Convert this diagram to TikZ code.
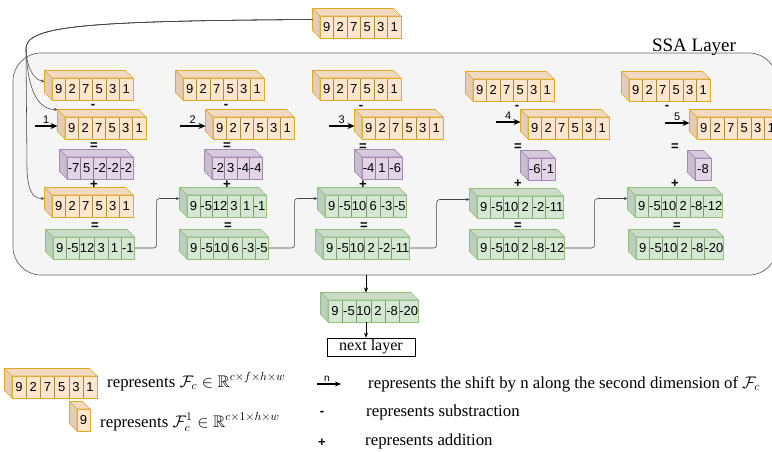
\RequirePackage{fix-cm}
\documentclass[tikz,border=0pt]{standalone}
\usepackage{amssymb}
\usepackage{fontspec}
\setmainfont{Liberation Serif}
\newfontfamily\sansf{Liberation Sans}
\usetikzlibrary{calc,arrows.meta}
\definecolor{ofill}{HTML}{FFE6CC}
\definecolor{oline}{HTML}{D79B00}
\definecolor{pfill}{HTML}{E1D5E7}
\definecolor{pline}{HTML}{9673A6}
\definecolor{gfill}{HTML}{D5E8D4}
\definecolor{gline}{HTML}{82B366}
\definecolor{ssafill}{HTML}{F5F5F5}
\definecolor{ssaline}{HTML}{666666}
\definecolor{connc}{HTML}{444444}
\tikzset{
  cellbox/.style={draw=#1line!50!gray, fill=#1fill, line width=0.55pt, minimum height=22pt,
    inner xsep=0.3pt, inner ysep=0pt, outer sep=0pt, anchor=north west,
    font=\sansf\fontsize{13}{13}\selectfont},
  ssabox/.style={draw=ssaline, fill=ssafill, line width=0.7pt, rounded corners=28pt,
    inner sep=0pt, outer sep=0pt, anchor=north west},
  opsign/.style={font=\sansf\bfseries\fontsize{13}{13}\selectfont, inner sep=0pt},
  numlbl/.style={font=\sansf\fontsize{11}{11}\selectfont, inner sep=1pt},
  shiftarr/.style={line width=1.4pt, -{Stealth[length=7pt,width=6pt]}},
  conn/.style={draw=connc, line width=0.55pt, -{Stealth[length=3.5pt,width=3pt]}},
  vconn/.style={draw=black, line width=0.6pt, -{Stealth[length=5pt,width=4pt]}},
  legtext/.style={font=\fontsize{16.8}{19}\selectfont, inner sep=0pt},
}
% #1 name, #2 x, #3 y, #4 number of cells, #5 colour prefix, #6 min cell width, #7 cells
\newcommand\blk[7]{%
  \foreach \t [count=\i] in {#7} {%
    \ifnum\i=1\relax
      \node[cellbox=#5, minimum width=#6pt] (#1-1) at (#2,#3) {\t};
    \else
      \pgfmathtruncatemacro\j{\i-1}%
      \node[cellbox=#5, minimum width=#6pt] (#1-\i) at (#1-\j.north east) {\t};
    \fi
  }
  \draw[#5line!80!#5fill, line width=0.6pt] (#1-1.north west) rectangle (#1-#4.south east);
  \draw[#5line!80!#5fill, line width=0.6pt, fill=#5fill!95!black, line join=round]
    (#1-1.north west) -- ++(-7.5,-7.5) -- ($(#1-#4.north east)+(-7.5,-7.5)$) -- (#1-#4.north east) -- cycle;
  \draw[#5line!80!#5fill, line width=0.6pt, fill=#5fill!89!black, line join=round]
    (#1-1.north west) -- ++(-7.5,-7.5) -- ($(#1-1.south west)+(-7.5,-7.5)$) -- (#1-1.south west) -- cycle;
  \coordinate (#1-w) at ($(#1-1.west)+(-7.5,-7.5)$);
  \coordinate (#1-nw) at ($(#1-1.north west)+(-7.5,-7.5)$);
  \coordinate (#1-top) at ($(#1-1.north west)!.5!(#1-#4.north east)+(-7.5,-7.5)$);
  \coordinate (#1-e) at (#1-#4.east);
}
\begin{document}
\begin{tikzpicture}[x=1pt,y=-1pt]
\useasboundingbox (0,0) rectangle (772,451);
% SSA layer frame
\node[ssabox, minimum width=764pt, minimum height=222pt] (ssa) at (13,53) {};
\node[font=\fontsize{19}{19}\selectfont, anchor=base, inner sep=0pt] (ssalbl) at (694,51) {SSA Layer};

% input block
\blk{T}{320}{16}{6}{o}{13.5}{9,2,7,5,3,1}

% column 1
\blk{A1}{52}{78}{6}{o}{13.5}{9,2,7,5,3,1}
\blk{B1}{65}{117}{6}{o}{13.5}{9,2,7,5,3,1}
\blk{P1}{67}{157}{5}{p}{13.2}{-7,5,-2,-2,-2}
\blk{C1}{52}{195}{6}{o}{13.5}{9,2,7,5,3,1}
\blk{D1}{53}{237}{6}{g}{13.3}{9,-5,12,3,1,-1}
% column 2
\blk{A2}{183}{78}{6}{o}{13.5}{9,2,7,5,3,1}
\blk{B2}{213}{117}{6}{o}{13.5}{9,2,7,5,3,1}
\blk{P2}{212}{157}{4}{p}{12.5}{-2,3,-4,-4}
\blk{G2}{187}{195}{6}{g}{12.8}{9,-5,12,3,1,-1}
\blk{D2}{187}{237}{6}{g}{13.3}{9,-5,10,6,-3,-5}
% column 3
\blk{A3}{320}{78}{6}{o}{13.5}{9,2,7,5,3,1}
\blk{B3}{362}{117}{6}{o}{13.5}{9,2,7,5,3,1}
\blk{P3}{362}{157}{3}{p}{13.3}{-4,1,-6}
\blk{G3}{325}{195}{6}{g}{13.3}{9,-5,10,6,-3,-5}
\blk{D3}{323}{237}{6}{g}{13.3}{9,-5,10,2,-2,-11}
% column 4
\blk{A4}{473}{79}{6}{o}{13.5}{9,2,7,5,3,1}
\blk{B4}{528}{117}{6}{o}{13.5}{9,2,7,5,3,1}
\blk{P4}{528}{158}{2}{p}{13.5}{-6,-1}
\blk{G4}{477}{196}{6}{g}{13.3}{9,-5,10,2,-2,-11}
\blk{D4}{477}{237}{6}{g}{13.3}{9,-5,10,2,-8,-12}
% column 5
\blk{A5}{629}{79}{6}{o}{13.5}{9,2,7,5,3,1}
\blk{B5}{697}{117}{6}{o}{13.5}{9,2,7,5,3,1}
\blk{P5}{695}{158}{1}{p}{16}{-8}
\blk{G5}{635}{195}{6}{g}{13.3}{9,-5,10,2,-8,-12}
\blk{D5}{636}{237}{6}{g}{13.3}{9,-5,10,2,-8,-20}

% operator signs
\node[opsign] (m1) at (93,106) {-};
\node[opsign] (m2) at (226,106) {-};
\node[opsign] (m3) at (361,107) {-};
\node[opsign] (m4) at (517,107) {-};
\node[opsign] (m5) at (667,107) {-};
\node[opsign] (ea1) at (94,146) {=};
\node[opsign] (ea2) at (227,146) {=};
\node[opsign] (ea3) at (363,147) {=};
\node[opsign] (ea4) at (518,147) {=};
\node[opsign] (ea5) at (675,147) {=};
\node[opsign] (pl1) at (94,185) {+};
\node[opsign] (pl2) at (227,185) {+};
\node[opsign] (pl3) at (363,185) {+};
\node[opsign] (pl4) at (518,184) {+};
\node[opsign] (pl5) at (675,184) {+};
\node[opsign] (eb1) at (95,226) {=};
\node[opsign] (eb2) at (228,226) {=};
\node[opsign] (eb3) at (364,226) {=};
\node[opsign] (eb4) at (518,226) {=};
\node[opsign] (eb5) at (677,226) {=};

% shift arrows
\coordinate (s1) at (35,126);
\coordinate (s2) at (180,126);
\coordinate (s3) at (329,126);
\coordinate (s4) at (496,122);
\coordinate (s5) at (665,123);
\draw[shiftarr] (s1) -- (s1 -| B1-w) node[numlbl, midway, above=1pt] {1};
\draw[shiftarr] (s2) -- (s2 -| B2-w) node[numlbl, midway, above=1pt] {2};
\draw[shiftarr] (s3) -- (s3 -| B3-w) node[numlbl, midway, above=1pt] {3};
\draw[shiftarr] (s4) -- (s4 -| B4-w) node[numlbl, midway, above=1pt] {4};
\draw[shiftarr] (s5) -- (s5 -| B5-w) node[numlbl, midway, above=1pt] {5};

% input connectors
\draw[conn] (T-w) .. controls (80,21) and (24,26) .. (26,50) .. controls (27,70) and (35,80) .. (A1-w);
\draw[conn] (T-w) .. controls (80,21) and (24,26) .. (26,50) .. controls (28,95) and (40,109.5) .. (B1-nw);
\draw[conn] (T-w) .. controls (80,21) and (24,26) .. (26,50) -- (27,170) .. controls (28,195) and (35,198.5) .. (C1-w);

% result to next column
\draw[conn, rounded corners=3pt] (D1-e) -- ++(22,0) |- (G2-w);
\draw[conn, rounded corners=3pt] (D2-e) -- ++(26,0) |- (G3-w);
\draw[conn, rounded corners=3pt] (D3-e) -- ++(27,0) |- (G4-w);
\draw[conn, rounded corners=3pt] (D4-e) -- ++(30,0) |- (G5-w);

% output
\blk{F}{328}{300}{6}{g}{14}{9,-5,10,2,-8,-20}
\node[draw, line width=0.6pt, minimum width=88pt, minimum height=18pt, inner sep=0pt,
  font=\fontsize{16}{16}\selectfont] (next) at (371,347) {next layer};
\coordinate (ax) at (366,0);
\draw[vconn] (ssa.south -| ax) -- (F-top -| ax);
\draw[vconn] (F-1.south -| ax) -- (next.north -| ax);

% legend
\blk{L1}{12}{376}{6}{o}{14.2}{9,2,7,5,3,1}
\blk{L2}{77}{409}{1}{o}{13}{9}
\node[legtext, anchor=base west] (t1) at (107,387) {represents $\mathcal{F}_c \in \mathbb{R}^{c\times f\times h\times w}$};
\node[legtext, anchor=base west] (t2) at (100,427) {represents $\mathcal{F}^1_c \in \mathbb{R}^{c\times 1\times h\times w}$};
\coordinate (n0) at (317,384);
\coordinate (n1) at (341,384);
\draw[line width=1.1pt, -{Stealth[length=6pt,width=5pt]}] (n0) -- (n1) node[numlbl, midway, above=1pt, xshift=-2pt, font=\sansf\fontsize{10}{10}\selectfont] {n};
\node[legtext, anchor=base west] (t3) at (368,388) {represents the shift by n along the second dimension of $\mathcal{F}_c$};
\node[opsign] (lm) at (322,413) {-};
\node[legtext, anchor=base west] (t4) at (366,416) {represents substraction};
\node[opsign] (lp) at (322,443) {+};
\node[legtext, anchor=base west] (t5) at (365,445) {represents addition};
\end{tikzpicture}
\end{document}
